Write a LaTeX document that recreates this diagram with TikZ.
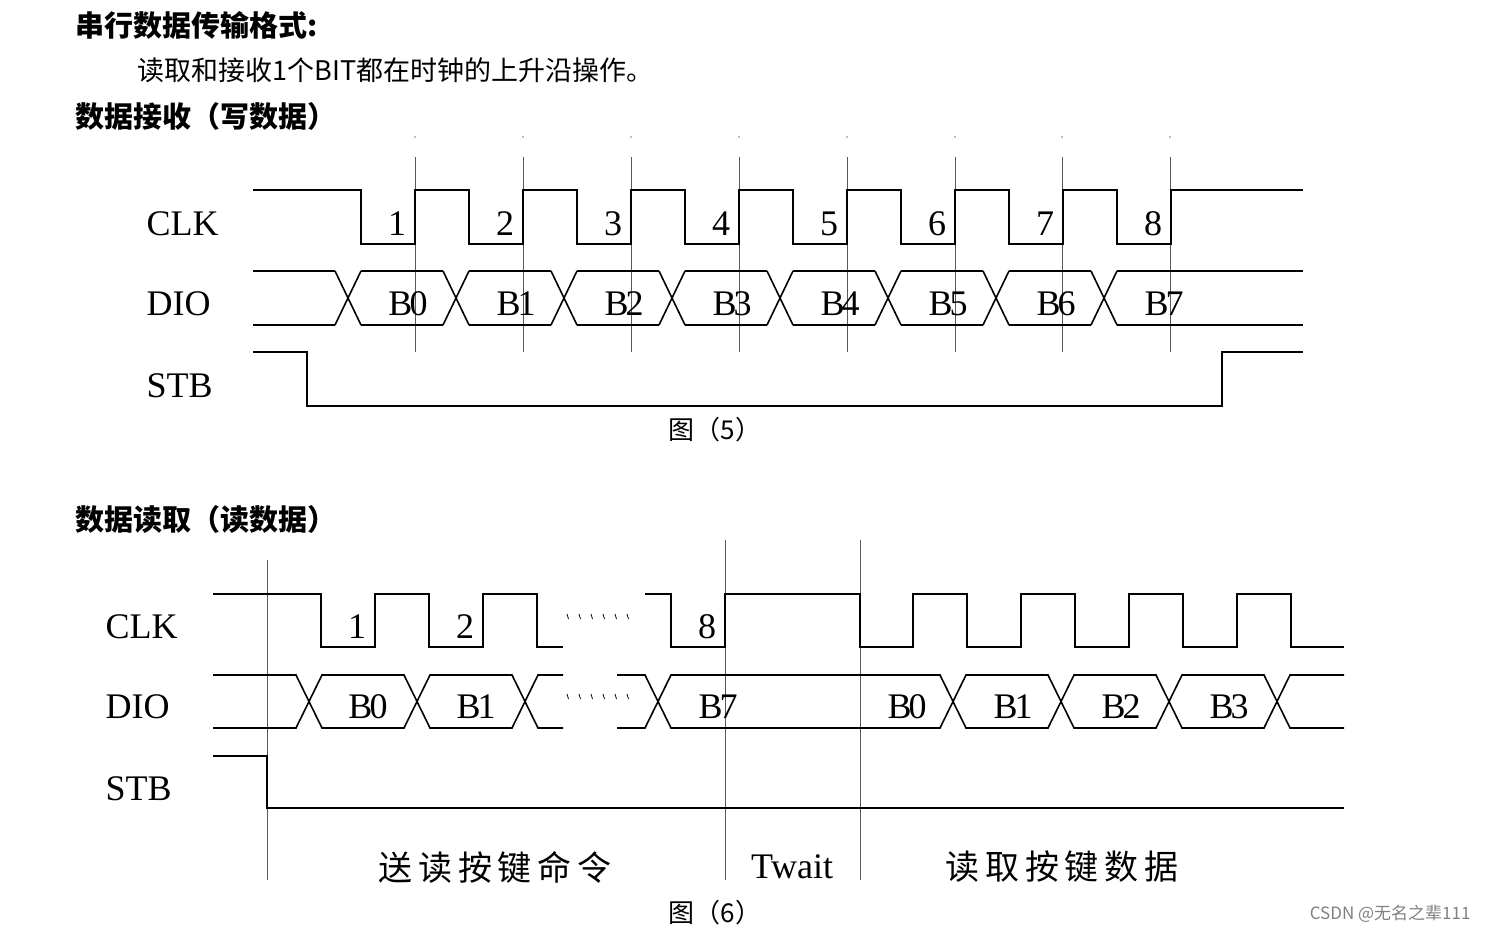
\documentclass[tikz,border=0pt]{standalone}
\usepackage{fontspec}
\setmainfont{Liberation Serif}
\newfontfamily\cjk{Noto Sans CJK SC}
\begin{document}
\begin{tikzpicture}[x=1pt,y=-1pt,
  sig/.style={line width=1.6pt},
  guide/.style={gray!70!black,line width=0.7pt},
  lab/.style={font=\fontsize{36}{36}\selectfont},
  num/.style={font=\fontsize{36}{36}\selectfont},
  cn/.style={font=\cjk\fontsize{27}{27}\selectfont,anchor=west},
  cnb/.style={font=\cjk\bfseries\fontsize{29}{29}\selectfont,anchor=west},
  tick/.style={line width=0.8pt}]
\useasboundingbox (0,0) rectangle (1488,934);
% headings
\node[cnb] (t1) at (72,25) {串行数据传输格式:};
\node[cn] (t2) at (134,70) {读取和接收1个BIT都在时钟的上升沿操作。};
\node[cnb] (t3) at (72,116) {数据接收（写数据）};
\node[cnb] (t4) at (72,519) {数据读取（读数据）};
% ---------- Figure 5 ----------
\foreach \x in {415,523,631,739,847,955,1062,1170}{
  \draw[guide] (\x,157) -- (\x,352);
  \fill[gray] (\x,137) circle (0.8);}
\draw[sig] (253,190) -- (361,190)
  \foreach \i in {0,...,7}{ -- ({361+108*\i},244) -- ({415+108*\i},244) -- ({415+108*\i},190) -- ({469+108*\i},190)}
  -- (1303,190);
\foreach \i in {1,...,8}{\node[num] (n\i) at ({397+108*(\i-1)},224) {\i};}
% DIO
\foreach \i in {0,...,7}{
  \draw[sig] ({335+108*\i},271) -- ({361+108*\i},325);
  \draw[sig] ({335+108*\i},325) -- ({361+108*\i},271);}
\foreach \i in {0,...,6}{
  \draw[sig] ({361+108*\i},271) -- ({443+108*\i},271);
  \draw[sig] ({361+108*\i},325) -- ({443+108*\i},325);}
\draw[sig] (253,271) -- (335,271);
\draw[sig] (253,325) -- (335,325);
\draw[sig] (1117,271) -- (1303,271);
\draw[sig] (1117,325) -- (1303,325);
\foreach \i in {0,...,7}{\node[lab] (b\i) at ({408+108*\i},304) {B\kern-3pt\i};}
% STB
\draw[sig] (253,352) -- (307,352) -- (307,406) -- (1222,406) -- (1222,352) -- (1303,352);
\node[lab,anchor=west] (clk1) at (143,224) {CLK};
\node[lab,anchor=west] (dio1) at (143,304) {DIO};
\node[lab,anchor=west] (stb1) at (143,386) {STB};
\node[font=\cjk\fontsize{26}{26}\selectfont] (f5) at (715,430) {图（5）};
% ---------- Figure 6 ----------
\foreach \x/\t in {267/560,725/540,860/540}{\draw[guide] (\x,\t) -- (\x,880);}
\draw[sig] (213,594) -- (321,594) -- (321,647) -- (375,647) -- (375,594) -- (429,594) -- (429,647) -- (483,647) -- (483,594) -- (537,594) -- (537,647) -- (563,647);
\draw[sig] (645,594) -- (671,594) -- (671,647) -- (725,647) -- (725,594) -- (860,594) -- (860,647) -- (913,647)
  -- (913,594) -- (967,594) -- (967,647) -- (1021,647) -- (1021,594) -- (1075,594) -- (1075,647) -- (1129,647) -- (1129,594) -- (1183,594) -- (1183,647) -- (1237,647) -- (1237,594) -- (1291,594) -- (1291,647) -- (1344,647);
\node[num] (m1) at (357,627) {1};
\node[num] (m2) at (465,627) {2};
\node[num] (m8) at (707,627) {8};
\foreach \x in {567,579,591,603,615,627}{
  \draw[tick] (\x,614) -- (\x+1.5,619);
  \draw[tick] (\x,694) -- (\x+1.5,699);}
% DIO bottom
\draw[sig] (213,675) -- (296,675) -- (322,728) -- (404,728) -- (430,675) -- (512,675) -- (538,728) -- (563,728);
\draw[sig] (213,728) -- (296,728) -- (322,675) -- (404,675) -- (430,728) -- (512,728) -- (538,675) -- (563,675);
\draw[sig] (617,675) -- (645,675) -- (671,728) -- (940,728) -- (966,675) -- (1048,675) -- (1074,728) -- (1156,728) -- (1182,675) -- (1264,675) -- (1290,728) -- (1344,728);
\draw[sig] (617,728) -- (645,728) -- (671,675) -- (940,675) -- (966,728) -- (1048,728) -- (1074,675) -- (1156,675) -- (1182,728) -- (1264,728) -- (1290,675) -- (1344,675);
\node[lab] (c0) at (368,707) {B\kern-3pt0};
\node[lab] (c1) at (476,707) {B\kern-3pt1};
\node[lab] (c7) at (718,707) {B\kern-3pt7};
\node[lab] (d0) at (907,707) {B\kern-3pt0};
\node[lab] (d1) at (1013,707) {B\kern-3pt1};
\node[lab] (d2) at (1121,707) {B\kern-3pt2};
\node[lab] (d3) at (1229,707) {B\kern-3pt3};
\draw[sig] (213,756) -- (267,756) -- (267,808) -- (1344,808);
\node[lab,anchor=west] (clk2) at (102,627) {CLK};
\node[lab,anchor=west] (dio2) at (102,707) {DIO};
\node[lab,anchor=west] (stb2) at (102,789) {STB};
\node[font=\cjk\fontsize{34}{34}\selectfont] (s1) at (495,867) {送\,读\,按\,键\,命\,令};
\node[lab] (tw) at (792,867) {T\kern-2pt wait};
\node[font=\cjk\fontsize{34}{34}\selectfont] (s2) at (1062,867) {读\,取\,按\,键\,数\,据};
\node[font=\cjk\fontsize{26}{26}\selectfont] (f6) at (715,913) {图（6）};
\node[font=\cjk\fontsize{17}{17}\selectfont,gray,anchor=east] (wm) at (1474,914) {CSDN @无名之辈111};
\end{tikzpicture}
\end{document}
